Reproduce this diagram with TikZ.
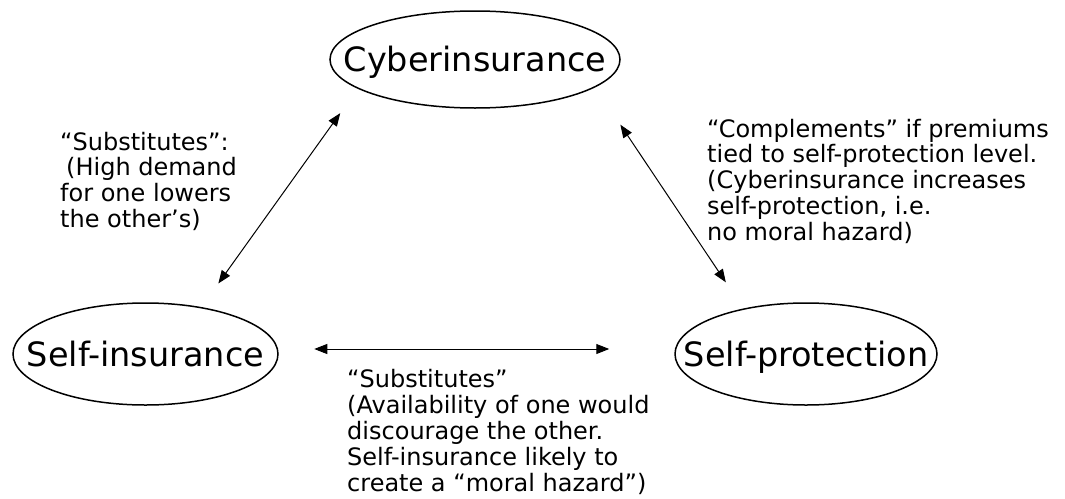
\documentclass[tikz,border=0pt]{standalone}
\usepackage{fontspec}
\setmainfont{DejaVu Sans}
\usetikzlibrary{arrows.meta,shapes.geometric}
\begin{document}
\begin{tikzpicture}[x=1pt,y=-1pt,
  concept/.style={draw, ellipse, line width=1.5pt, inner sep=0pt,
    font=\fontsize{33.5}{36}\selectfont, text height=24.5pt, text depth=0pt},
  remark/.style={anchor=base west, inner sep=0pt,
    font=\fontsize{24}{25.5}\selectfont},
  link/.style={{Triangle[length=13pt,width=10pt]}-{Triangle[length=13pt,width=10pt]},
    line width=1pt}]
\useasboundingbox[fill=white] (0,0) rectangle (1065,498);

% the three options; the label is given zero width so the ellipse keeps its set size
\node[concept, minimum width=290pt, minimum height=97pt] (cy) at (475,59.5) {\makebox[0pt]{Cyberinsurance}};
\node[concept, minimum width=265pt, minimum height=102pt] (si) at (145.5,354) {\makebox[0pt]{Self-insurance}};
\node[concept, minimum width=262pt, minimum height=102pt] (sp) at (806,354) {\makebox[0pt]{Self-protection}};

% relations between them
\draw[link, shorten <=29pt, shorten >=30pt] (si.40.6) -- (cy.194.3);
\draw[link, shorten <=45pt, shorten >=31.5pt] (cy.347.3) -- (sp.144.4);
\draw[link, shorten <=35.5pt, shorten >=65pt] ([yshift=5pt]si.east) -- ([yshift=5pt]sp.west);

% comments on each relation
\node[remark] (subA) at (60,150) {\begin{tabular}[t]{@{}l@{}}
“Substitutes”:\\
\hspace{6pt}(High demand\\
for one lowers\\
the other’s)
\end{tabular}};
\node[remark] (comp) at (707,137) {\begin{tabular}[t]{@{}l@{}}
“Complements” if premiums\\
tied to self-protection level.\\
(Cyberinsurance increases\\
self-protection, i.e.\\
no moral hazard)
\end{tabular}};
\node[remark, font=\fontsize{24}{26}\selectfont] (subB) at (347,387) {\begin{tabular}[t]{@{}l@{}}
“Substitutes”\\
(Availability of one would\\
discourage the other.\\
Self-insurance likely to\\
create a “moral hazard”)
\end{tabular}};
\end{tikzpicture}
\end{document}
